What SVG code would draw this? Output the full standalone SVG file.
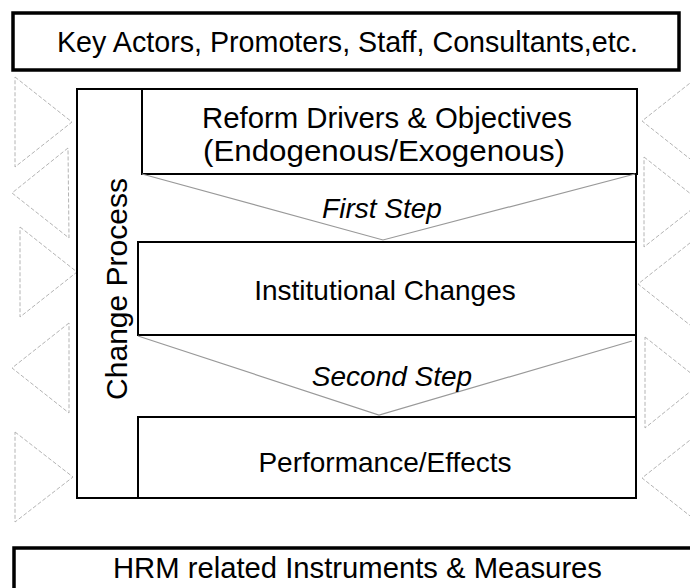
<svg xmlns="http://www.w3.org/2000/svg" width="690" height="588" viewBox="0 0 690 588">
<style>
.t{font-family:"Liberation Sans",Arial,sans-serif;font-size:28px;fill:#000}
.i{font-style:italic}
.box{fill:#fff;stroke:#000;stroke-width:2}
.bold{fill:#fff;stroke:#000;stroke-width:3.5}
.tri{fill:none;stroke:#b4b4b4;stroke-width:1;stroke-dasharray:4 2}
.fun{fill:none;stroke:#999;stroke-width:1.2}
</style>
<rect width="690" height="588" fill="#fff"/>
<g id="triangles">
<polygon class="tri" points="15,77 72,122 15,167"/>
<polygon class="tri" points="68,148 12,193 69,238"/>
<polygon class="tri" points="20,227 77,272 20,317"/>
<polygon class="tri" points="69,323 12,368 69,413"/>
<polygon class="tri" points="15,432 73,477 15,522"/>
<polygon class="tri" points="699,76 642,121 699,166"/>
<polygon class="tri" points="644,157 701,202 644,247"/>
<polygon class="tri" points="695,239 638,284 695,329"/>
<polygon class="tri" points="645,337 702,382 645,428"/>
<polygon class="tri" points="699,433 642,478 699,523"/>
</g>
<g id="actors">
<rect class="bold" x="13" y="13" width="666" height="57"/>
<text class="t" x="57" y="52" style="font-size:29px" textLength="581" lengthAdjust="spacingAndGlyphs">Key Actors, Promoters, Staff, Consultants,etc.</text>
</g>
<g id="change-process">
<rect class="box" x="77" y="89" width="559" height="409"/>
<text class="t" transform="translate(127,289) rotate(-90)" text-anchor="middle" style="font-size:30px">Change Process</text>
</g>
<g id="reform">
<rect class="box" x="142" y="89" width="495" height="85"/>
<text class="t" x="202" y="128" style="font-size:29px" textLength="370" lengthAdjust="spacingAndGlyphs">Reform Drivers &amp; Objectives</text>
<text class="t" x="203" y="161" style="font-size:29px" textLength="362" lengthAdjust="spacingAndGlyphs">(Endogenous/Exogenous)</text>
</g>
<g id="institutional">
<rect class="box" x="138" y="242" width="498" height="93"/>
<text class="t" x="385" y="300" text-anchor="middle">Institutional Changes</text>
</g>
<g id="performance">
<rect class="box" x="138" y="417" width="498" height="81"/>
<text class="t" x="385" y="472" text-anchor="middle">Performance/Effects</text>
</g>
<g id="connectors">
<polyline class="fun" points="142,174 383,240 635,174"/>
<polyline class="fun" points="138,336 379,415 632,341"/>
<text class="t i" x="382" y="218" text-anchor="middle">First Step</text>
<text class="t i" x="392" y="386" text-anchor="middle">Second Step</text>
</g>
<g id="hrm">
<rect class="bold" x="14" y="548" width="690" height="60"/>
<text class="t" x="113" y="578" style="font-size:29px" textLength="489" lengthAdjust="spacingAndGlyphs">HRM related Instruments &amp; Measures</text>
</g>
</svg>
